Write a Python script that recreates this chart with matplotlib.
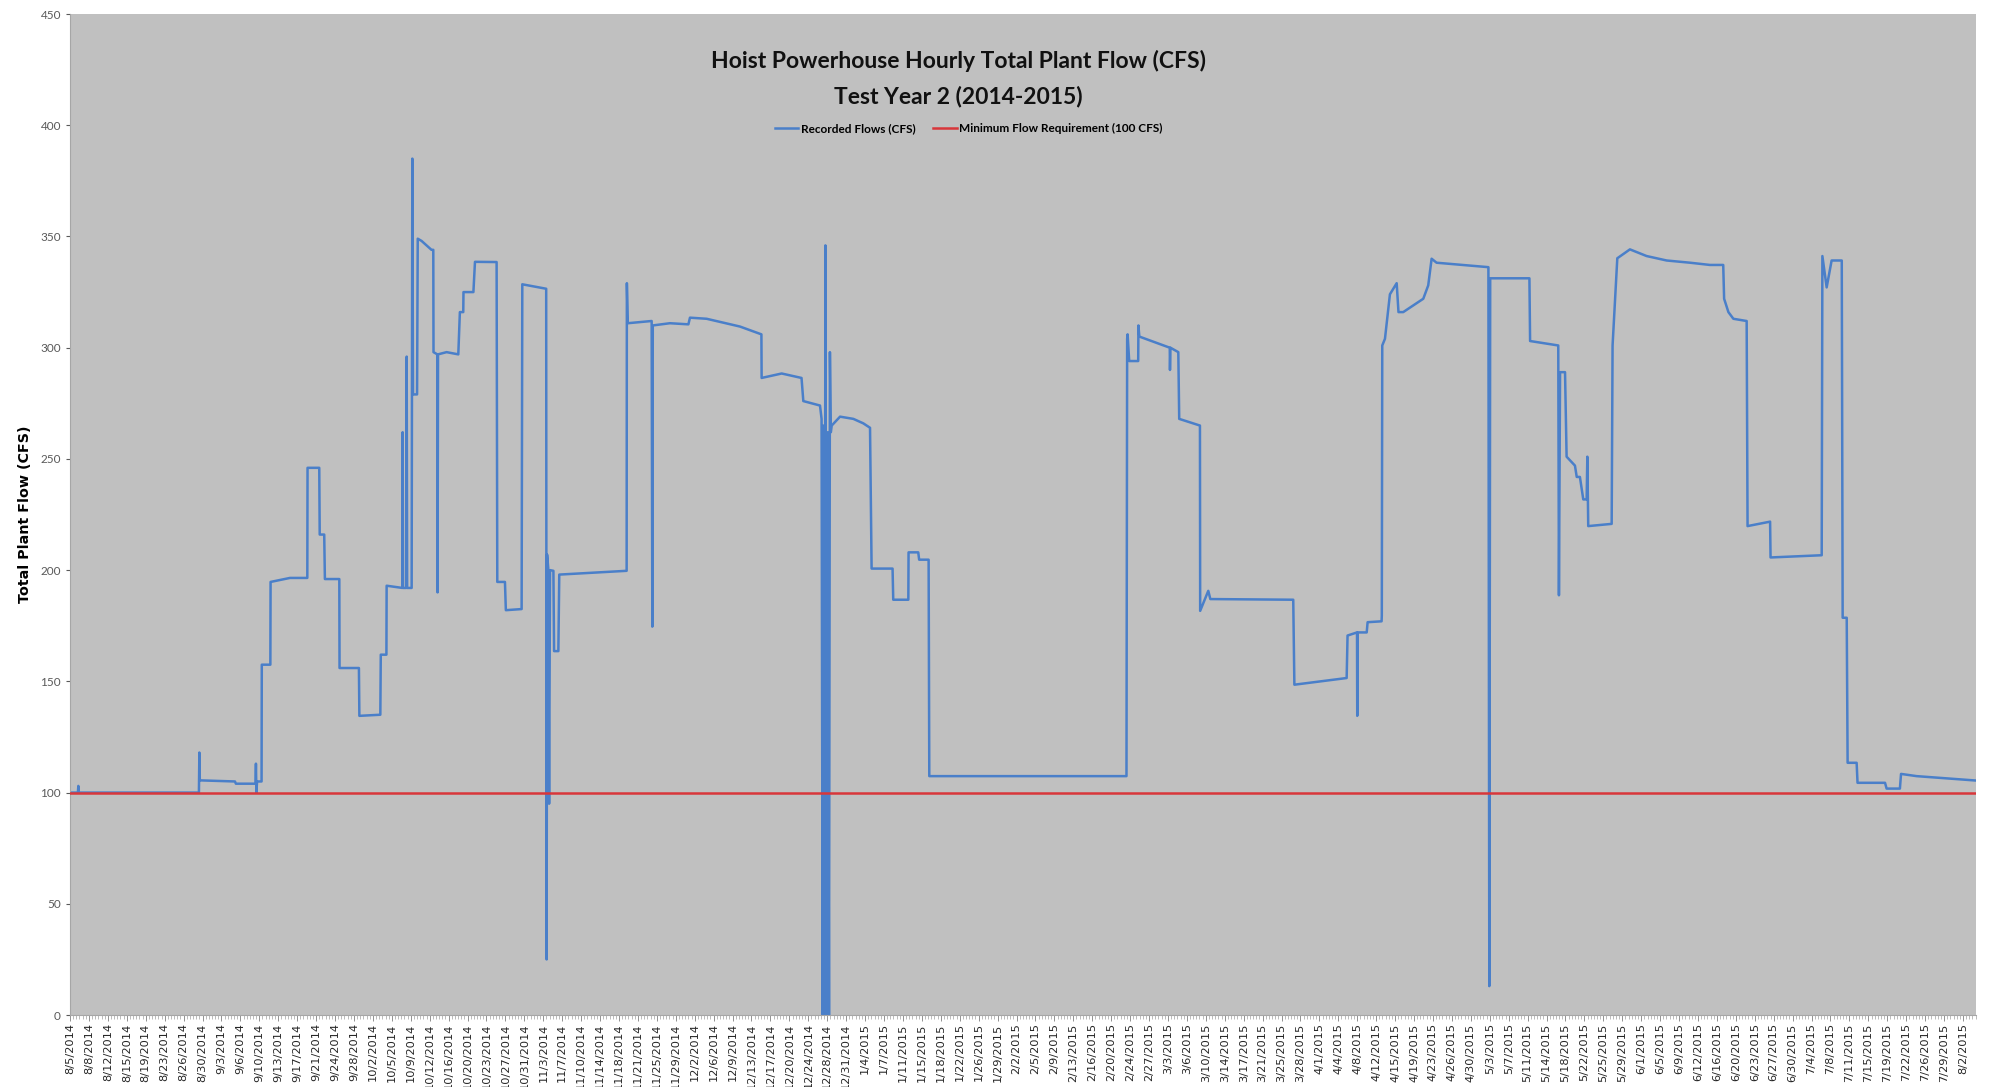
import numpy as np
import matplotlib
matplotlib.use("Agg")
import matplotlib.pyplot as plt

# tick labels on the category axis, one every 84 hourly records
date_labels = [
    "8/5/2014", "8/8/2014", "8/12/2014", "8/15/2014", "8/19/2014", "8/23/2014", "8/26/2014", "8/30/2014",
    "9/3/2014", "9/6/2014", "9/10/2014", "9/13/2014", "9/17/2014", "9/21/2014", "9/24/2014", "9/28/2014",
    "10/2/2014", "10/5/2014", "10/9/2014", "10/12/2014", "10/16/2014", "10/20/2014", "10/23/2014",
    "10/27/2014", "10/31/2014", "11/3/2014", "11/7/2014", "11/10/2014", "11/14/2014", "11/18/2014",
    "11/21/2014", "11/25/2014", "11/29/2014", "12/2/2014", "12/6/2014", "12/9/2014", "12/13/2014",
    "12/17/2014", "12/20/2014", "12/24/2014", "12/28/2014", "12/31/2014", "1/4/2015", "1/7/2015",
    "1/11/2015", "1/15/2015", "1/18/2015", "1/22/2015", "1/26/2015", "1/29/2015", "2/2/2015", "2/5/2015",
    "2/9/2015", "2/13/2015", "2/16/2015", "2/20/2015", "2/24/2015", "2/27/2015", "3/3/2015", "3/6/2015",
    "3/10/2015", "3/14/2015", "3/17/2015", "3/21/2015", "3/25/2015", "3/28/2015", "4/1/2015", "4/4/2015",
    "4/8/2015", "4/12/2015", "4/15/2015", "4/19/2015", "4/23/2015", "4/26/2015", "4/30/2015", "5/3/2015",
    "5/7/2015", "5/11/2015", "5/14/2015", "5/18/2015", "5/22/2015", "5/25/2015", "5/29/2015", "6/1/2015",
    "6/5/2015", "6/9/2015", "6/12/2015", "6/16/2015", "6/20/2015", "6/23/2015", "6/27/2015", "6/30/2015",
    "7/4/2015", "7/8/2015", "7/11/2015", "7/15/2015", "7/19/2015", "7/22/2015", "7/26/2015", "7/29/2015",
    "8/2/2015",
]
label_step = 84
n_records = 8460

# recorded flow as (record index, cfs) break points
flow_hour = [
    0, 35, 37, 39, 572, 574, 576, 732, 736, 823, 825, 827, 830, 850, 851, 889, 890, 976, 1053, 1054,
    1106, 1108, 1128, 1131, 1195, 1196, 1282, 1284, 1377, 1379, 1404, 1405, 1475, 1476, 1478, 1492,
    1494, 1496, 1516, 1519, 1522, 1540, 1543, 1560, 1604, 1612, 1613, 1630, 1631, 1633, 1671, 1723,
    1730, 1745, 1746, 1790, 1797, 1893, 1896, 1930, 1934, 2004, 2007, 2113, 2115, 2117, 2122, 2126,
    2130, 2145, 2148, 2167, 2171, 2470, 2471, 2475, 2581, 2584, 2586, 2662, 2744, 2751, 2825, 2973,
    3068, 3069, 3158, 3246, 3254, 3328, 3335, 3340, 3344, 3348, 3352, 3356, 3362, 3368, 3372, 3376,
    3380, 3417, 3476, 3520, 3550, 3557, 3650, 3653, 3720, 3721, 3764, 3768, 3810, 3813, 4688, 4691,
    4693, 4700, 4740, 4741, 4745, 4880, 4881, 4883, 4918, 4922, 5014, 5015, 5051, 5060, 5428, 5433,
    5665, 5669, 5711, 5712, 5714, 5754, 5758, 5820, 5821, 5823, 5835, 5857, 5887, 5895, 5916, 6005,
    6027, 6042, 6064, 6294, 6298, 6302, 6476, 6479, 6604, 6607, 6612, 6634, 6641, 6678, 6686, 6700,
    6715, 6730, 6733, 6737, 6841, 6845, 6866, 6922, 6996, 7085, 7189, 7277, 7336, 7340, 7359, 7381,
    7440, 7444, 7544, 7546, 7773, 7776, 7795, 7817, 7862, 7866, 7884, 7888, 7928, 7932, 8054, 8061,
    8120, 8125, 8194, 8460,
]
flow_cfs = [
    100, 100, 103, 100, 100, 118, 105.5, 105, 104, 104, 113, 100, 105, 105, 157.5, 157.5, 194.7, 196.5, 196.5, 246,
    246, 216, 216, 196, 196, 156, 156, 134.5, 135, 162, 162, 193, 192, 262, 192, 192,
    296, 192, 192, 385, 279, 279, 349, 348, 344, 344, 298, 297, 190, 297, 298, 297,
    316, 316, 325, 325, 338.6, 338.5, 194.7, 194.7, 182, 182.5, 328.5, 326.5, 25, 207, 201, 95,
    200, 199.7, 163.6, 163.6, 198, 199.7, 329, 311, 312, 174.6, 310, 311, 310.5, 313.5, 313, 309.5,
    306, 286.4, 288.4, 286.4, 276, 274, 268, 0, 265, 0, 346, 0, 262, 0, 298, 262,
    265, 269, 268, 266, 264, 200.7, 200.7, 186.7, 186.7, 208, 208, 204.7, 204.7, 107.4, 107.4, 304,
    306, 294, 294, 310, 305, 300, 290, 300, 298, 268, 265, 181.7, 190.7, 187, 186.7, 148.5,
    151.5, 170.6, 172, 134.5, 172, 172, 176.6, 177, 179.6, 301, 304, 324, 329, 316, 316, 322,
    328, 340, 338.2, 336.2, 13, 331.2, 331.2, 303, 301, 188.7, 289, 289, 251, 247, 241.9, 241.9,
    231.8, 231.8, 251, 219.8, 220.8, 301, 340.2, 344.2, 341.2, 339.2, 338.2, 337.2, 337.2, 322, 316, 313,
    312, 219.8, 221.8, 205.7, 206.7, 341.2, 327.1, 339.2, 339.2, 178.6, 178.6, 113.4, 113.4, 104.4, 104.4, 101.8,
    101.8, 108.4, 107.4, 105.4,
]
min_flow = 100

plt.rcParams['font.family'] = ['Lato', 'DejaVu Sans']

fig = plt.figure(figsize=(19.89, 10.87), dpi=100)
ax = fig.add_axes([0.0352, 0.0662, 0.9583, 0.9209])
ax.set_facecolor("#c0c0c0")

ax.plot(flow_hour, flow_cfs, color="#4a7fc9", lw=1.8, label="Recorded Flows (CFS)", zorder=2)
ax.axhline(min_flow, color="#d8363a", lw=1.8, label="Minimum Flow Requirement (100 CFS)", zorder=3)

ax.set_xlim(0, n_records - 2)
ax.set_ylim(0, 450)
ax.set_yticks(np.arange(0, 451, 50))
ax.tick_params(axis="y", labelsize=8.5, colors="#595959", length=3, width=0.8)

ticks = [i * label_step for i in range(len(date_labels))]
ax.set_xticks(ticks)
ax.set_xticklabels(date_labels, rotation=90, fontsize=8.2, family="DejaVu Sans", color="#262626")
ax.set_xticks(np.arange(0, n_records, 14), minor=True)
ax.tick_params(axis="x", which="major", length=4, width=0.6, color="#808080", pad=2)
ax.tick_params(axis="x", which="minor", length=3, width=0.5, color="#a0a0a0")

for side in ["top", "right"]:
    ax.spines[side].set_visible(False)
ax.spines["left"].set_color("#a6a6a6")
ax.spines["bottom"].set_color("#a6a6a6")

ax.set_ylabel("Total Plant Flow (CFS)", fontsize=10.3, fontweight="bold", family="DejaVu Sans", labelpad=6)

fig.text(0.482, 0.944, "Hoist Powerhouse Hourly Total Plant Flow (CFS)", ha="center", va="center",
         fontsize=16.5, fontweight="bold", color="#111111")
fig.text(0.482, 0.911, "Test Year 2 (2014-2015)", ha="center", va="center",
         fontsize=16.5, fontweight="bold", color="#111111")
fig.legend(loc="center", bbox_to_anchor=(0.487, 0.882), ncol=2, frameon=False,
           handlelength=2.0, handletextpad=0.2, columnspacing=1.5,
           prop={"weight": "bold", "size": 8.5})

fig.savefig("out.png", dpi=100)
